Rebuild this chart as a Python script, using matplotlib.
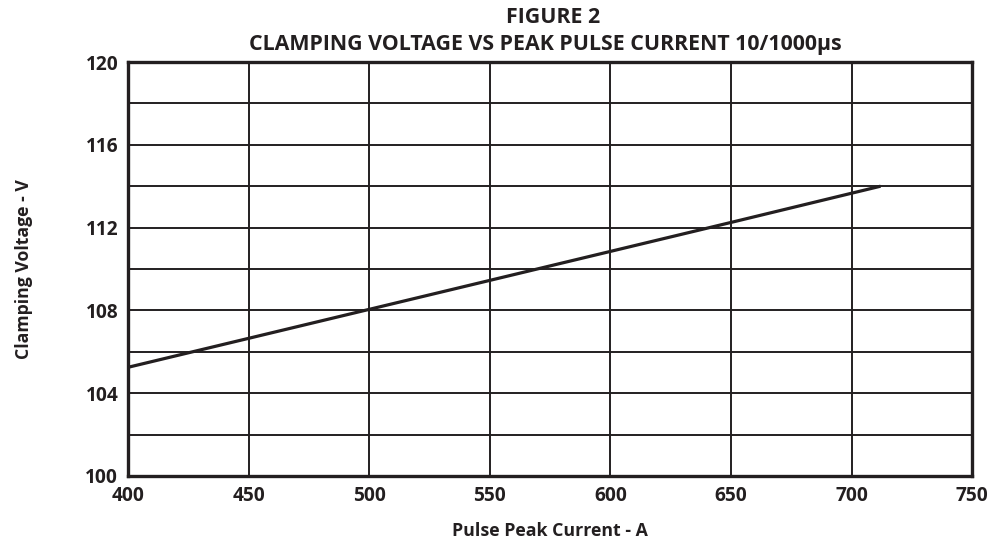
import numpy as np
import matplotlib.pyplot as plt
from matplotlib.ticker import MultipleLocator

# ============================================
# DATA
# ============================================

peak_current = [400, 450, 500, 550, 600, 650, 712]
clamp_voltage = [105.25, 106.65, 108.05, 109.45, 110.85, 112.25, 114.0]

x_ticks = [400, 450, 500, 550, 600, 650, 700, 750]
y_ticks = [100, 104, 108, 112, 116, 120]

INK = "#231f20"

plt.rcParams["font.family"] = ["Open Sans", "DejaVu Sans"]
plt.rcParams["font.weight"] = "bold"

# ============================================
# PLOT
# ============================================

fig = plt.figure(figsize=(9.93, 5.42), dpi=100)
ax = fig.add_axes([0.1289, 0.1218, 0.8502, 0.7638])

ax.plot(peak_current, clamp_voltage, color=INK, linewidth=2.3, solid_capstyle="butt", zorder=3)

ax.set_xlim(400, 750)
ax.set_ylim(100, 120)
ax.set_xticks(x_ticks)
ax.set_yticks(y_ticks)
ax.yaxis.set_minor_locator(MultipleLocator(2))

ax.grid(True, which="both", color=INK, linewidth=1.4)
ax.tick_params(which="both", length=0, labelsize=13.8, colors=INK)
ax.tick_params(axis="x", pad=7)
ax.tick_params(axis="y", pad=7)
for lab in ax.get_xticklabels() + ax.get_yticklabels():
    lab.set_fontweight("bold")

for s in ax.spines.values():
    s.set_linewidth(2.4)
    s.set_color(INK)
    s.set_zorder(4)

ax.set_xlabel("Pulse Peak Current - A", fontsize=12.8, fontweight="bold", color=INK, labelpad=12)
ax.set_ylabel("Clamping Voltage - V", fontsize=12.7, fontweight="bold", color=INK, labelpad=38)

fig.text(0.557, 0.968, "FIGURE 2", ha="center", va="center", fontsize=15.4, fontweight="bold", color=INK)
fig.text(0.549, 0.917, "CLAMPING VOLTAGE VS PEAK PULSE CURRENT 10/1000µs", ha="center", va="center",
         fontsize=15.4, fontweight="bold", color=INK)

fig.savefig("out.png", dpi=100)
